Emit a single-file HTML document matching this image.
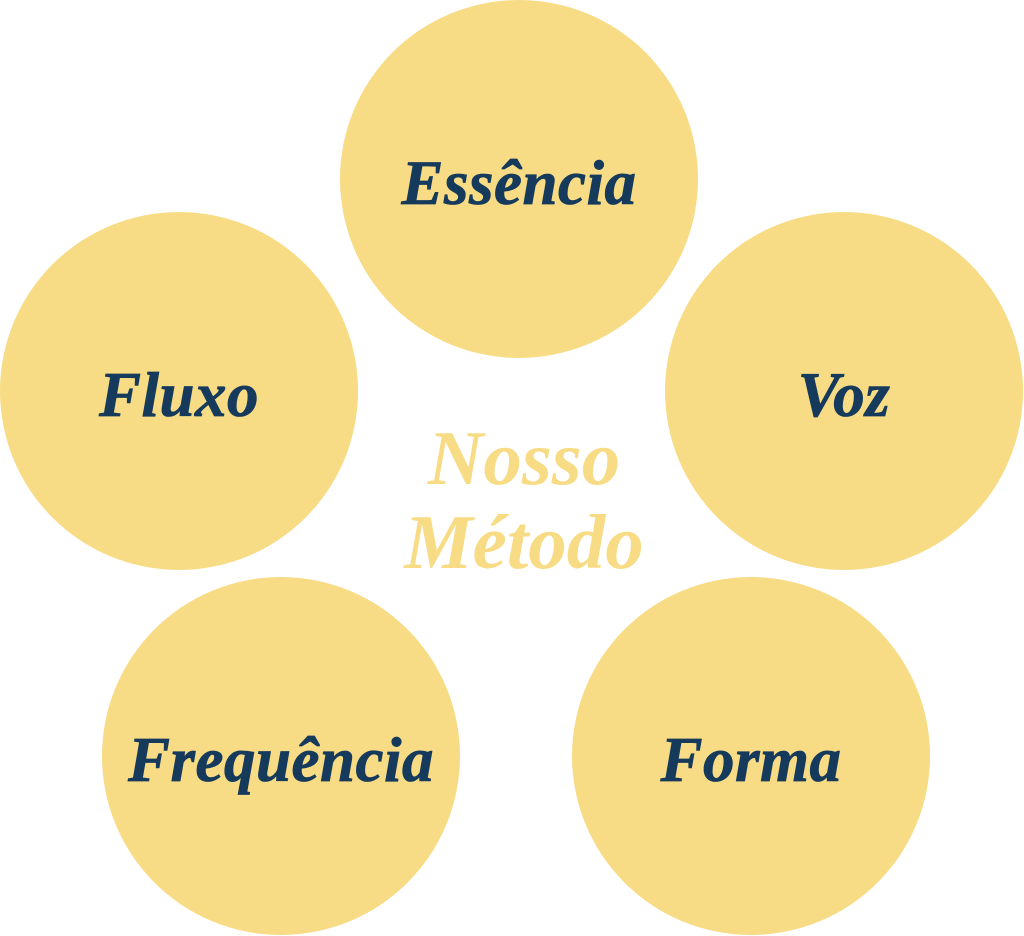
<!DOCTYPE html>
<html><head><meta charset="utf-8"><style>
html,body{margin:0;padding:0;background:#fff;}
body{width:1024px;height:936px;position:relative;overflow:hidden;}
.c{position:absolute;width:358px;height:358px;border-radius:50%;background:#F7DC85;display:flex;align-items:center;justify-content:center;font-family:"Liberation Serif",serif;font-weight:bold;font-style:italic;color:#163A5B;font-size:63px;letter-spacing:0.5px;padding-top:8px;box-sizing:border-box;-webkit-text-stroke:0.8px #163A5B;}
.t{position:absolute;left:12px;width:1024px;text-align:center;font-family:"Liberation Serif",serif;font-style:italic;font-weight:bold;color:#F7DC85;font-size:77px;line-height:84px;}
</style></head><body>
<div class="c" style="left:340px;top:0px;">Essência</div>
<div class="c" style="left:0px;top:212px;">Fluxo</div>
<div class="c" style="left:665px;top:212px;">Voz</div>
<div class="c" style="left:102px;top:577px;">Frequência</div>
<div class="c" style="left:572px;top:577px;">Forma</div>
<div class="t" style="top:416px;">Nosso<br>Método</div>
</body></html>
